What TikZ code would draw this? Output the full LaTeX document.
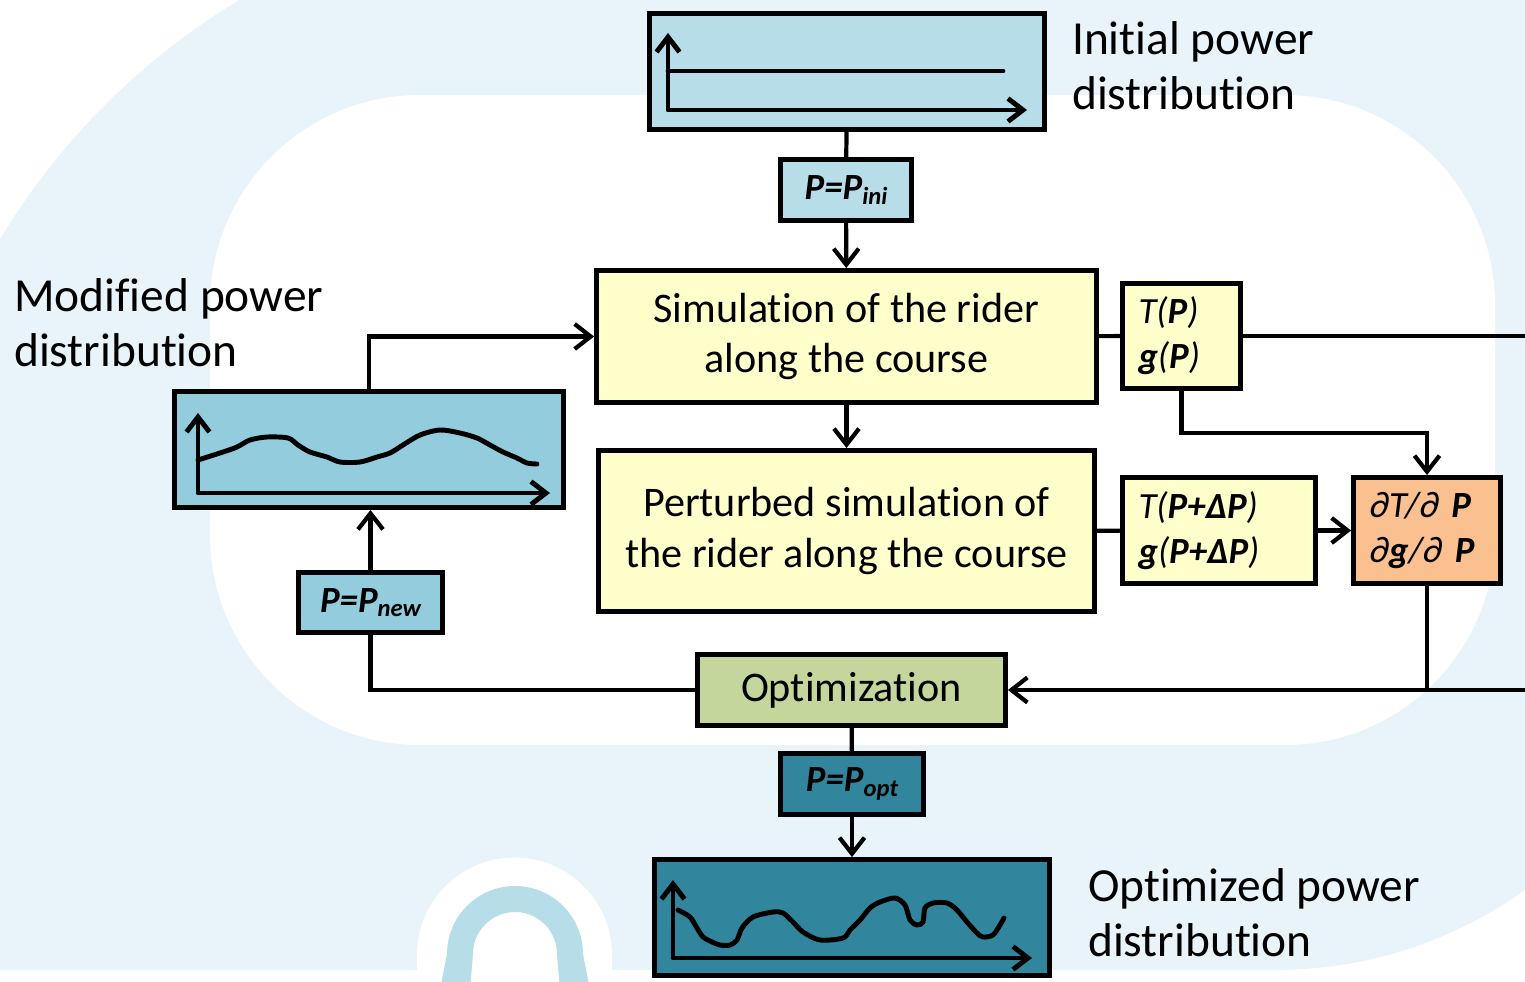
\documentclass[tikz,border=0pt]{standalone}
\usepackage{fontspec}
\setmainfont{Carlito}[Ligatures=NoCommon]
\usetikzlibrary{arrows.meta, calc}
\definecolor{cbg}{HTML}{E8F4F9}
\definecolor{cpale}{HTML}{B7DEE8}
\definecolor{cmid}{HTML}{93CDDD}
\definecolor{cdeep}{HTML}{31859C}
\definecolor{cyellow}{HTML}{FFFFCC}
\definecolor{cgreen}{HTML}{C3D69B}
\definecolor{corange}{HTML}{FAC090}
\newcommand\bivar[1]{\textbf{\textit{#1}}}
\newcommand\lowsub[1]{\raisebox{-0.12em}{\fontsize{14}{14}\selectfont #1}}
\tikzset{
  every picture/.style={line width=2.4pt},
  box/.style={draw=black, fill=#1, line width=2.8pt, align=center, inner sep=0pt, font=\fontsize{24}{28.5}\selectfont},
  box/.default=cyellow,
  var/.style={box=#1, align=left, inner sep=0pt, inner xsep=0.32cm, font=\fontsize{21}{25.6}\selectfont},
  var/.default=cyellow,
  tag/.style={box=#1, font=\fontsize{21}{22}\selectfont\bfseries\itshape},
  arrow/.style={-{Straight Barb[length=3.2mm, width=5mm]}, line width=2.4pt},
  link/.style={line width=2.4pt},
  chart/.style={line width=2.8pt, line cap=round, line join=round},
  axes/.style={chart, {Straight Barb[length=3mm, width=4.6mm]}-{Straight Barb[length=3mm, width=4.6mm]}},
  note/.style={font=\fontsize{27}{31.5}\selectfont, align=left, anchor=north west, inner sep=0pt},
}

\begin{document}
\begin{tikzpicture}[x=0.02cm, y=-0.02cm]
  \useasboundingbox (0,0) rectangle (1525,981);
  \clip (0,0) rectangle (1525,981);
  % background
  \fill[cbg] (-100,600) arc[start angle=180, end angle=270, radius=700] -- (1705,-100) -- (1705,540)
    arc[start angle=0, end angle=90, radius=430] -- (-100,970) -- cycle;
  \fill[white, rounded corners=4.2cm] (210,95) rectangle (1495,745);
  \fill[white] (417,990) -- (417,955) arc[start angle=180, end angle=360, radius=97.5] -- (612,990) -- cycle;
  \fill[cpale] (440,990) -- (447,954) arc[start angle=180, end angle=360, radius=68] -- (590,990) -- (560,990)
    -- (557,954) arc[start angle=360, end angle=180, radius=42] -- (470,990) -- cycle;

  % boxes
  \node[box=cpale, minimum width=7.9cm, minimum height=2.32cm] (init) at (847,71.5) {};
  \node[tag=cpale, minimum width=2.62cm, minimum height=1.22cm] (pini) at (846,190) {P=P\lowsub{ini}};
  \node[box, minimum width=10cm, minimum height=2.64cm] (sim) at (846.5,336.5) {Simulation of the rider\\along the course};
  \node[box, minimum width=9.92cm, minimum height=3.22cm] (pert) at (846.5,531) {Perturbed simulation of\\the rider along the course};
  \node[var, text width=1.72cm, minimum height=2.1cm] (tp) at (1181.5,336) {\textit{T(\bivar{P})}\\\textit{\bivar{g}(\bivar{P})}};
  \node[var, text width=3.22cm, minimum height=2.12cm] (tpd) at (1219,530.5) {\textit{T(\bivar{P+ΔP})}\\\textit{\bivar{g}(\bivar{P+ΔP})}};
  \node[var=corange, text width=2.3cm, minimum height=2.12cm] (dt) at (1427,530.5) {\textit{∂T/∂~\bivar{P}}\\\textit{∂\bivar{g}/∂~\bivar{P}}};
  \node[box=cmid, minimum width=7.78cm, minimum height=2.32cm] (mod) at (369,449.5) {};
  \node[tag=cmid, minimum width=2.88cm, minimum height=1.2cm] (pnew) at (370.5,602.5) {P=P\lowsub{new}};
  \node[box=cgreen, minimum width=6.16cm, minimum height=1.42cm] (opt) at (851.5,690) {Optimization};
  \node[tag=cdeep, minimum width=2.86cm, minimum height=1.22cm] (popt) at (852,784) {P=P\lowsub{opt}};
  \node[box=cdeep, minimum width=7.9cm, minimum height=2.32cm] (optd) at (852,917.5) {};

  \node[note] (initnote) at (1070,19) {Initial power\\distribution};
  \node[note] (modnote) at (12,276) {Modified power\\distribution};
  \node[note] (optnote) at (1086,866) {Optimized power\\distribution};

  % connectors
  \coordinate (rt) at (1545,336);
  \coordinate (rb) at (1545,690);
  \draw[link] (init) -- (pini);
  \draw[arrow] (pini) -- (sim);
  \draw[arrow] (sim) -- (pert);
  \draw[link] (sim) -- (tp);
  \draw[link] (pert) -- (tpd);
  \draw[arrow] (tpd) -- (dt);
  \draw[arrow] (tp.south) -- ++(0,42) -| (dt.north);
  \draw[arrow] (tp.east) -- (rt) -- (rb) -- (opt.east);
  \draw[link] (dt.south) -- (dt.south |- opt.east);
  \draw[link] (opt.west) -| (pnew.south);
  \draw[arrow] (pnew.north) -- (pnew.north |- mod.south);
  \draw[arrow] (mod.north) |- (sim.west);
  \draw[link] (opt) -- (popt);
  \draw[arrow] (popt) -- (optd);

  % little charts
  \draw[axes] (668,33) -- (668,110) -- (1027,110);
  \draw[chart] (668,71) -- (1003,71);
  \draw[axes] (198,413) -- (198,493) -- (550,493);
  \draw[chart] plot[smooth] coordinates {(198,460) (223,452) (237,447) (250,440) (267,437) (288,438) (298,445)
    (310,452) (327,457) (340,462) (360,462) (377,457) (390,453) (403,445) (420,435) (440,430) (460,433)
    (477,438) (490,445) (503,452) (517,458) (527,463) (537,464)};
  \draw[axes] (673,880) -- (673,958) -- (1032,958);
  \draw[chart] plot[smooth] coordinates {(678,910) (690,917) (697,928) (703,937) (710,941) (720,945) (730,945)
    (737,940) (742,928) (753,917) (773,912) (783,913) (793,922) (803,932) (820,940) (843,938) (850,930)
    (860,920) (870,908) (880,902) (895,898) (905,905) (910,920) (917,925) (923,922) (925,908) (933,903)
    (947,903) (957,910) (967,922) (977,933) (983,937) (993,935) (1000,925) (1004,918)};
\end{tikzpicture}
\end{document}
